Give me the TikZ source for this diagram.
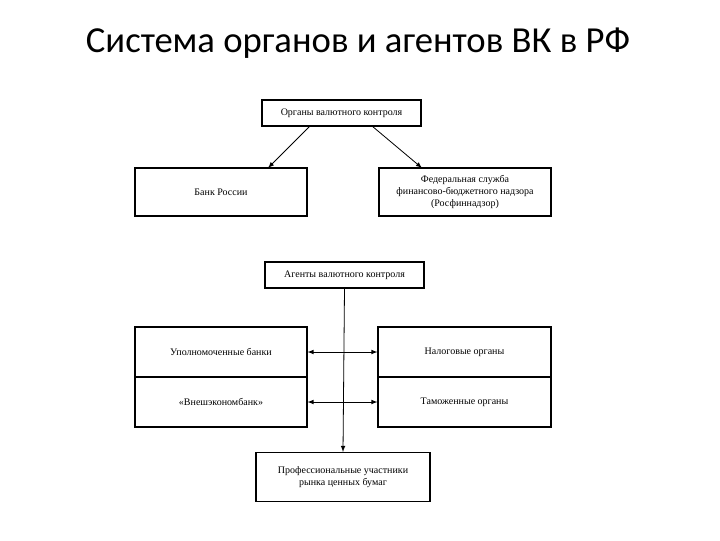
\documentclass[tikz,border=0pt]{standalone}
\usepackage{fontspec}
\setmainfont{Liberation Serif}
\newfontfamily\titlefont{Carlito}
\begin{document}
\begin{tikzpicture}[x=0.75pt,y=-0.75pt,
  box/.style={draw,line width=0.8pt,align=center,font=\fontsize{7.5}{9}\selectfont,inner sep=0pt},
  arr/.style={-latex,line width=0.6pt}]
\useasboundingbox (0,0) rectangle (720,540);
\node[font=\titlefont\fontsize{27.5}{32}\selectfont] (title) at (358,43) {Система органов и агентов ВК в РФ};
\node[box,minimum width=119.25pt,minimum height=19.5pt] (org) at (341.5,113) {Органы валютного контроля};
\node[box,minimum width=129pt,minimum height=36pt] (bank) at (221,192) {Банк России};
\node[box,minimum width=129pt,minimum height=36pt] (fed) at (465,192) {Федеральная служба\\финансово-бюджетного надзора\\(Росфиннадзор)};
\node[box,minimum width=119.25pt,minimum height=19.5pt] (ag) at (344.5,275) {Агенты валютного контроля};
\node[box,minimum width=129pt,minimum height=37.5pt] (ub) at (221,352) {Уполномоченные банки};
\node[box,minimum width=129pt,minimum height=37.5pt] (veb) at (221,402) {«Внешэкономбанк»};
\node[box,minimum width=129.75pt,minimum height=37.5pt] (nal) at (464.5,352) {Налоговые органы};
\node[box,minimum width=129.75pt,minimum height=37.5pt] (tam) at (464.5,402) {Таможенные органы};
\node[box,minimum width=130.5pt,minimum height=36.75pt] (prof) at (343,477) {Профессиональные участники\\рынка ценных бумаг};
\draw[arr] (310,126) -- (268,168);
\draw[arr] (372,126) -- (422,168);
\draw[arr] (ag.south) -- (prof.north);
\draw[latex-latex,line width=0.6pt] (ub.east) -- (nal.west);
\draw[latex-latex,line width=0.6pt] (veb.east) -- (tam.west);
\end{tikzpicture}
\end{document}
